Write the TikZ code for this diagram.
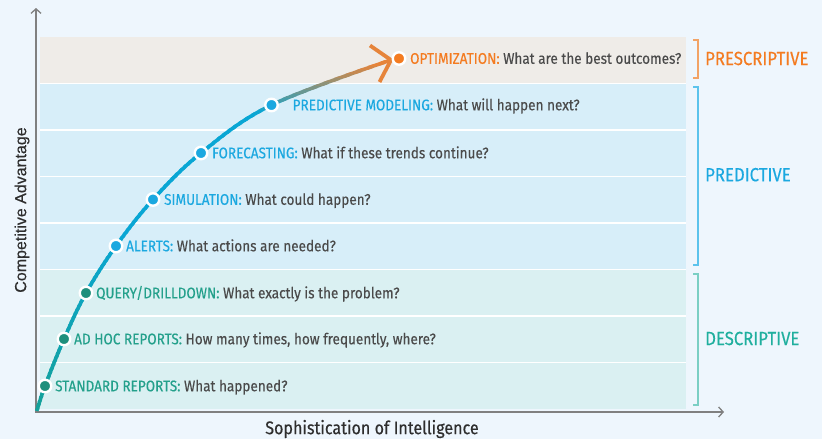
\documentclass[tikz,border=0pt]{standalone}
\usepackage{fontspec}
\setmainfont[FakeStretch=0.88,FakeBold=0.25]{Fira Sans}
\newfontfamily\axisfont[FakeBold=0.4]{Liberation Sans}
\newfontfamily\xaxisfont[FakeStretch=0.88,FakeBold=0.45]{Fira Sans}
\usetikzlibrary{arrows.meta,positioning}

\definecolor{bgblue}{HTML}{EEF6FD}
\definecolor{bandpres}{HTML}{EFECE8}
\definecolor{bandpred}{HTML}{D7EEF9}
\definecolor{banddesc}{HTML}{DAF0F2}
\definecolor{presorange}{HTML}{F47B20}
\definecolor{predblue}{HTML}{1BA8E0}
\definecolor{descdot}{HTML}{1F8F7C}
\definecolor{desctext}{HTML}{23A08B}
\definecolor{desclabel}{HTML}{1FAF9E}
\definecolor{qgray}{HTML}{4A4A4A}
\definecolor{axisgray}{HTML}{808080}
\definecolor{axistext}{HTML}{2E2E2E}
\definecolor{presbracket}{HTML}{F2A366}
\definecolor{predbracket}{HTML}{5CC3EC}
\definecolor{descbracket}{HTML}{7BCFC4}
\definecolor{curveteal}{HTML}{14A19B}
\definecolor{curvecyan}{HTML}{09A6D4}
\definecolor{curveorange}{HTML}{E6843A}

\tikzset{
  axis/.style={draw=axisgray, line width=1.5pt,
    {Straight Barb[length=4.5pt,width=10pt,line width=1.3pt]}-{Straight Barb[length=4.5pt,width=10pt,line width=1.3pt]}},
  bracket/.style={line width=1.4pt},
  dot/.style={circle, draw=white, line width=2.4pt, inner sep=0pt, minimum size=12.5pt},
  stage/.style={font=\fontsize{15.4}{17}\selectfont, text=qgray, inner sep=0pt,
    text height=10.6pt, text depth=0pt, anchor=west},
  levellabel/.style={font=\fontsize{19}{21}\selectfont, inner sep=0pt, anchor=west},
  curveline/.style={line width=3.6pt},
  barbline/.style={draw=curveorange, line width=3.8pt},
}

\begin{document}
\begin{tikzpicture}[x=1pt,y=-1pt]
\useasboundingbox (0,0) rectangle (822,439);
\fill[bgblue] (0,0) rectangle (822,439);

% bands
\fill[white] (40,37) rectangle (686,409);
\foreach \k/\c in {0/bandpres,1/bandpred,2/bandpred,3/bandpred,4/bandpred,5/banddesc,6/banddesc,7/banddesc}
  \fill[\c] (40,{37+46.5*\k+(\k>0)*0.9}) rectangle (686,{83.5+46.5*\k-(\k<7)*0.9});

% brackets
\draw[bracket, presbracket] (693,40) -- (698,40) -- (698,78) -- (693,78);
\draw[bracket, predbracket] (693,87) -- (698,87) -- (698,265) -- (693,265);
\draw[bracket, descbracket] (693,274) -- (698,274) -- (698,405) -- (693,405);

\node[levellabel, text=presorange] (presc) at (705,58.5) {PRESCRIPTIVE};
\node[levellabel, text=predblue] (predi) at (705,174.7) {PREDICTIVE};
\node[levellabel, text=desclabel] (descr) at (705,338.5) {DESCRIPTIVE};

% axes
\coordinate (origin) at (36,412);
\coordinate (ytip) at (36,8);
\coordinate (xtip) at (724,412);
\draw[axis] (ytip) -- (origin) -- (xtip);
\node[font=\axisfont\fontsize{16}{18}\selectfont, rotate=90, text=axistext] (ylab) at (22,210) {Competitive Advantage};
\node[font=\xaxisfont\fontsize{18.3}{20}\selectfont, text=axistext] (xlab) at (372,429) {Sophistication of Intelligence};

% curve
\coordinate (c0) at (36.8,411);
\coordinate (p1) at (45,386);
\coordinate (p2) at (64,339);
\coordinate (p3) at (86,293);
\coordinate (p4) at (116,246);
\coordinate (p5) at (153,199.5);
\coordinate (p6) at (201,153);
\coordinate (p7) at (271.5,105);
\coordinate (tip) at (391,60);
\coordinate (p8) at (399,58.5);
\foreach \k in {0,...,88} {
  \pgfmathsetmacro\ya{413-4*\k}
  \pgfmathsetmacro\yb{\ya-4.6}
  \pgfmathtruncatemacro\pa{max(0,min(100,(\ya-2-230)/170*100))}
  \pgfmathtruncatemacro\pb{max(0,min(100,(112-\ya+2)/48*100))}
  \colorlet{stripmid}{curveteal!\pa!curvecyan}
  \begin{scope}
    \clip (0,\ya) rectangle (822,\yb);
    \draw[curveline, draw=curveorange!\pb!stripmid] plot[smooth, tension=0.6] coordinates {(c0) (p1) (p2) (p3) (p4) (p5) (p6) (p7) (tip)};
  \end{scope}
}
\draw[barbline] (370,45.5) -- (tip) -- (379.5,82);

% stages
\node[dot, fill=descdot] (std) at (p1) {};
\node[dot, fill=descdot] (adhoc) at (p2) {};
\node[dot, fill=descdot] (query) at (p3) {};
\node[dot, fill=predblue] (alerts) at (p4) {};
\node[dot, fill=predblue] (sim) at (p5) {};
\node[dot, fill=predblue] (fcast) at (p6) {};
\node[dot, fill=predblue] (model) at (p7) {};
\node[dot, fill=presorange] (optim) at (p8) {};

\node[stage, right=2.5pt of std] (stdtext) {\textcolor{desctext}{STANDARD REPORTS:} What happened?};
\node[stage, right=2.5pt of adhoc] (adhoctext) {\textcolor{desctext}{AD HOC REPORTS:} How many times, how frequently, where?};
\node[stage, right=2.5pt of query] (querytext) {\textcolor{desctext}{QUERY/DRILLDOWN:} What exactly is the problem?};
\node[stage, right=2.5pt of alerts] (alertstext) {\textcolor{predblue}{ALERTS:} What actions are needed?};
\node[stage, right=3.5pt of sim] (simtext) {\textcolor{predblue}{SIMULATION:} What could happen?};
\node[stage, right=3.5pt of fcast] (fcasttext) {\textcolor{predblue}{FORECASTING:} What if these trends continue?};
\node[stage, right=13.5pt of model] (modeltext) {\textcolor{predblue}{PREDICTIVE MODELING:} What will happen next?};
\node[stage, right=3.5pt of optim] (optimtext) {\textcolor{presorange}{OPTIMIZATION:} What are the best outcomes?};

\end{tikzpicture}
\end{document}
